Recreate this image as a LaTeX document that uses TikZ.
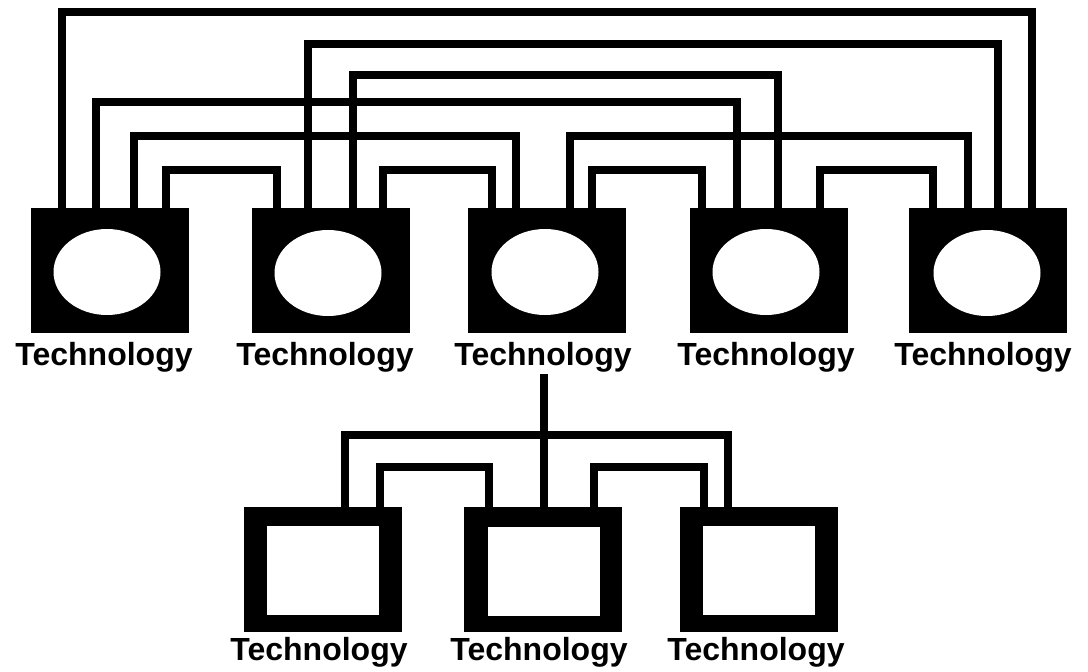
\documentclass[tikz,border=0pt]{standalone}
\usepackage{fontspec}
\setmainfont{Liberation Sans}
\usetikzlibrary{shapes.geometric}
\begin{document}
\begin{tikzpicture}[x=1pt,y=-1pt,
  wire/.style={line width=8.5pt, line join=miter},
  topbox/.style={rectangle, fill=black, minimum width=158pt, minimum height=125pt, inner sep=0pt, outer sep=0pt},
  hole/.style={ellipse, fill=white, minimum width=107pt, minimum height=86pt, inner sep=0pt},
  botbox/.style={rectangle, fill=black, minimum width=158pt, minimum height=125pt, inner sep=0pt, outer sep=0pt},
  botin/.style={rectangle, fill=white, minimum width=112pt, minimum height=89pt, inner sep=0pt},
  lbl/.style={font=\fontsize{32}{36}\selectfont\bfseries, anchor=base, inner sep=0pt}]
\useasboundingbox[fill=white] (0,0) rectangle (1088,672);

% top row boxes
\node[topbox] (b1) at (109.5,270.5) {};
\node[topbox] (b2) at (330.5,270.5) {};
\node[topbox] (b3) at (547,270.5) {};
\node[topbox] (b4) at (768.5,270.5) {};
\node[topbox] (b5) at (988,270.5) {};
\node[hole] (e1) at (107,272) {};
\node[hole] (e2) at (328,273) {};
\node[hole] (e3) at (545,272) {};
\node[hole] (e4) at (766,272) {};
\node[hole] (e5) at (987,273) {};

\node[lbl] (t1) at (104,365) {Technology};
\node[lbl] (t2) at (325,365) {Technology};
\node[lbl] (t3) at (543,365) {Technology};
\node[lbl] (t4) at (766,365) {Technology};
\node[lbl] (t5) at (983,365) {Technology};

% pins on top boxes
\foreach \n/\xa/\xb/\xc/\xd in {1/62/96/134/166, 2/277/308/353/383, 3/492/516/570/592, 4/702/737/778/820, 5/933/968/998/1032}{
  \coordinate (p\n a) at (\xa,212);
  \coordinate (p\n b) at (\xb,212);
  \coordinate (p\n c) at (\xc,212);
  \coordinate (p\n d) at (\xd,212);
}
% wiring levels
\coordinate (L1) at (0,12);
\coordinate (L2) at (0,44);
\coordinate (L3) at (0,75);
\coordinate (L4) at (0,102);
\coordinate (L5) at (0,136);
\coordinate (L6) at (0,170);

\draw[wire] (p1a) |- (L1 -| p5d) -- (p5d);
\draw[wire] (p2b) |- (L2 -| p5c) -- (p5c);
\draw[wire] (p2c) |- (L3 -| p4c) -- (p4c);
\draw[wire] (p1b) |- (L4 -| p4b) -- (p4b);
\draw[wire] (p1c) |- (L5 -| p3b) -- (p3b);
\draw[wire] (p3c) |- (L5 -| p5b) -- (p5b);
\draw[wire] (p1d) |- (L6 -| p2a) -- (p2a);
\draw[wire] (p2d) |- (L6 -| p3a) -- (p3a);
\draw[wire] (p3d) |- (L6 -| p4a) -- (p4a);
\draw[wire] (p4d) |- (L6 -| p5a) -- (p5a);

% bottom row boxes
\node[botbox] (bA) at (322.5,569.5) {};
\node[botbox] (bB) at (542.5,569.5) {};
\node[botbox] (bC) at (759,569.5) {};
\node[botin] (iA) at (322.5,570.5) {};
\node[botin] (iB) at (544,571) {};
\node[botin] (iC) at (758.5,570.5) {};

\node[lbl] (tA) at (319,660) {Technology};
\node[lbl] (tB) at (539,660) {Technology};
\node[lbl] (tC) at (756,660) {Technology};

\coordinate (qA1) at (345,511);
\coordinate (qA2) at (380,511);
\coordinate (qB1) at (489,511);
\coordinate (qB2) at (544,511);
\coordinate (qB3) at (594,511);
\coordinate (qC1) at (704,511);
\coordinate (qC2) at (728,511);
\coordinate (M1) at (0,435);
\coordinate (M2) at (0,467);
\coordinate (drop) at (544,374);

\draw[wire] (drop) -- (qB2);
\draw[wire] (qA1) |- (M1 -| qC2) -- (qC2);
\draw[wire] (qA2) |- (M2 -| qB1) -- (qB1);
\draw[wire] (qB3) |- (M2 -| qC1) -- (qC1);
\end{tikzpicture}
\end{document}
